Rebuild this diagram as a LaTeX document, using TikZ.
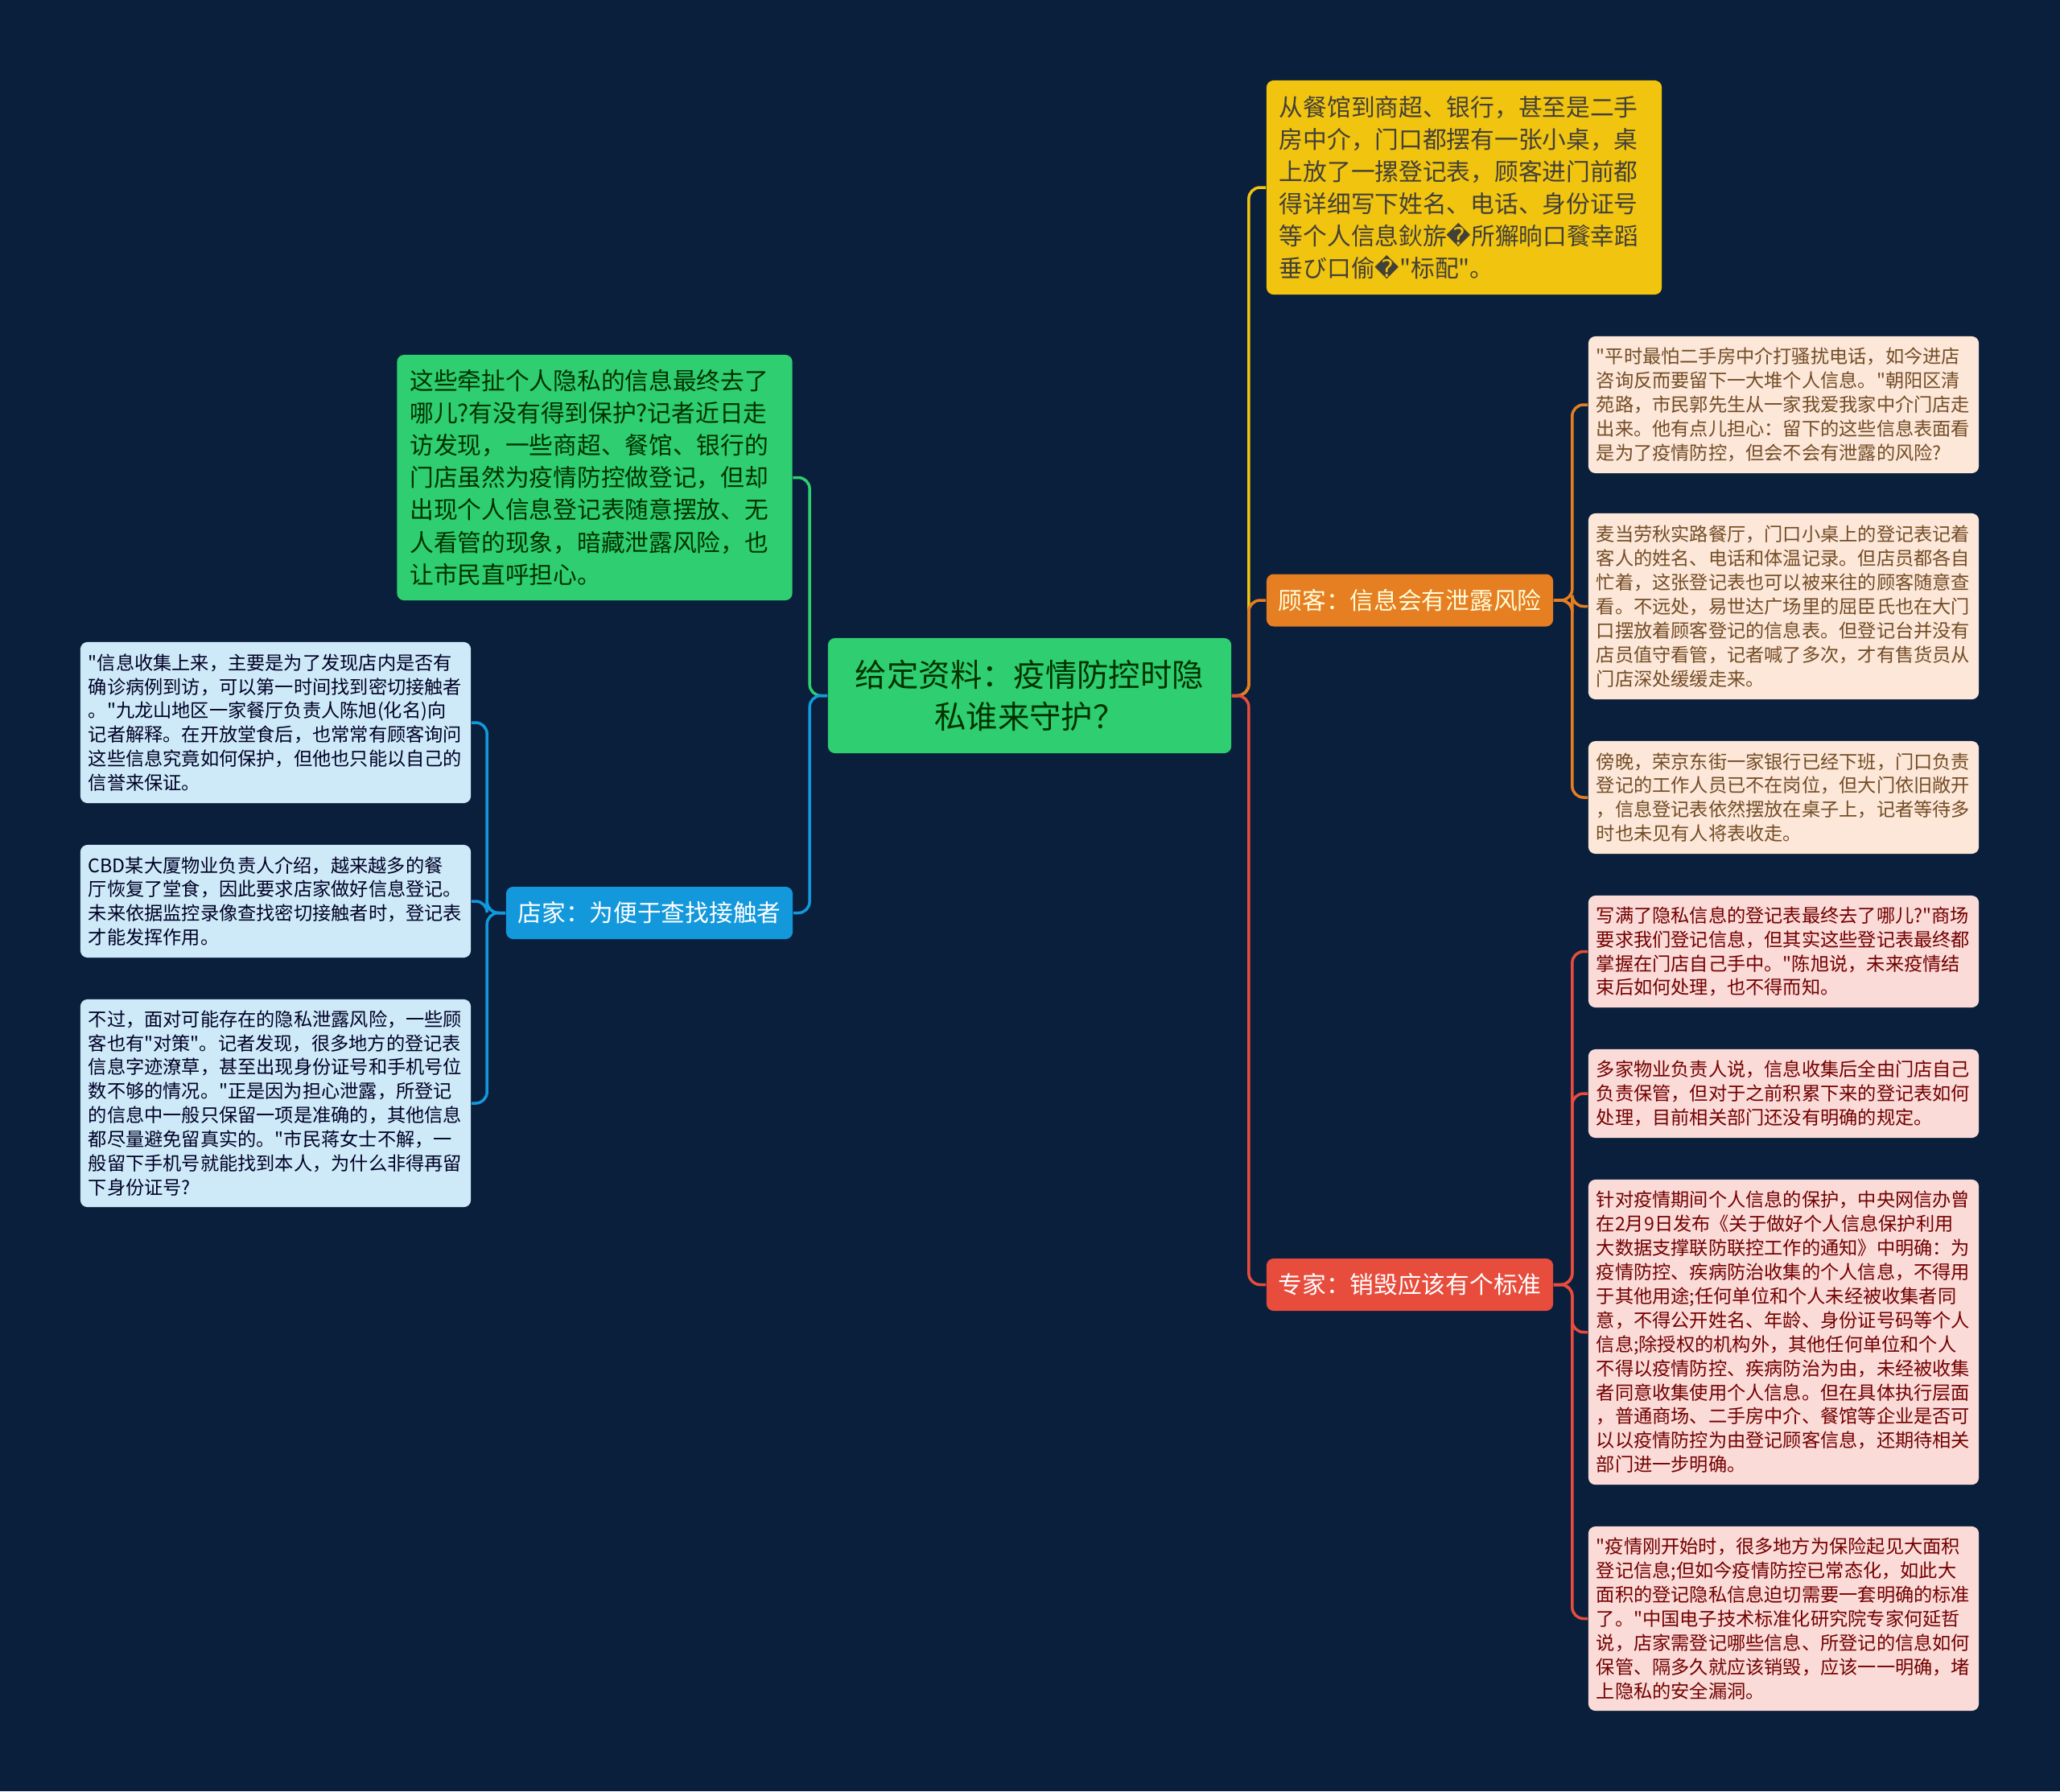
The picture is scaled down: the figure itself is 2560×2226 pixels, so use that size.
\documentclass[tikz,border=0pt]{standalone}
\usepackage{fontspec}
\setmainfont{Noto Sans CJK SC}[Ligatures=TeXOff]
\newfontfamily\repfont{DejaVu Sans}
\definecolor{bgnavy}{RGB}{10,31,59}
\definecolor{mgreen}{RGB}{46,206,113}
\definecolor{myellow}{RGB}{241,196,15}
\definecolor{morange}{RGB}{230,126,34}
\definecolor{mblue}{RGB}{19,152,220}
\definecolor{mred}{RGB}{231,76,60}
\definecolor{peach}{RGB}{252,231,216}
\definecolor{pinkleaf}{RGB}{250,219,216}
\definecolor{skyleaf}{RGB}{206,234,248}

\begin{document}
\begin{tikzpicture}[x=0.01cm,y=-0.01cm,
    big/.style={font=\fontsize{8.45pt}{11.4pt}\selectfont},
    small/.style={font=\fontsize{6.6pt}{8.5pt}\selectfont},
    card/.style={rounded corners=2.5pt, inner ysep=0pt, align=left},
    info/.style={card, big, inner xsep=0.16cm, text width=4.59cm},
    leaf/.style={card, small, inner xsep=0.1cm, text width=4.65cm},
    topic/.style={card, big, align=center, minimum width=3.56cm, minimum height=0.65cm},
    link/.style={line width=1pt, rounded corners=4pt}]
    \fill[bgnavy] (0,0) rectangle (2560,2226);

    % centre
    \node[card, fill=mgreen, text=black!80!green, align=center, minimum width=5.01cm, minimum height=1.43cm,
        font=\fontsize{11.2pt}{14.8pt}\selectfont] (root) at (1279.5,864.5) {给定资料：疫情防控时隐\\私谁来守护？};

    % top-level branches
    \node[info, fill=myellow, text=black!85!yellow, minimum height=2.66cm] (note) at (1819.5,233)
        {从餐馆到商超、银行，甚至是二手\\房中介，门口都摆有一张小桌，桌\\上放了一摞登记表，顾客进门前都\\得详细写下姓名、电话、身份证号\\等个人信息鈥旂{\repfont �}所獬晌口餮幸蹈\\垂び口偷{\repfont �}"标配"。};
    \node[info, fill=mgreen, text=black!80!green, minimum height=3.05cm] (intro) at (739,593.5)
        {这些牵扯个人隐私的信息最终去了\\哪儿?有没有得到保护?记者近日走\\访发现，一些商超、餐馆、银行的\\门店虽然为疫情防控做登记，但却\\出现个人信息登记表随意摆放、无\\人看管的现象，暗藏泄露风险，也\\让市民直呼担心。};
    \node[topic, fill=morange, text=yellow!15] (guke) at (1752,746) {顾客：信息会有泄露风险};
    \node[topic, fill=mblue, text=white] (dianjia) at (807,1134.5) {店家：为便于查找接触者};
    \node[topic, fill=mred, text=white] (zhuanjia) at (1752,1596.5) {专家：销毁应该有个标准};

    % customer leaves
    \node[leaf, fill=peach, text=brown!60!black, minimum height=1.70cm] (g1) at (2216.5,503)
        {"平时最怕二手房中介打骚扰电话，如今进店\\咨询反而要留下一大堆个人信息。"朝阳区清\\苑路，市民郭先生从一家我爱我家中介门店走\\出来。他有点儿担心：留下的这些信息表面看\\是为了疫情防控，但会不会有泄露的风险?};
    \node[leaf, fill=peach, text=brown!60!black, minimum height=2.31cm] (g2) at (2216.5,753.5)
        {麦当劳秋实路餐厅，门口小桌上的登记表记着\\客人的姓名、电话和体温记录。但店员都各自\\忙着，这张登记表也可以被来往的顾客随意查\\看。不远处，易世达广场里的屈臣氏也在大门\\口摆放着顾客登记的信息表。但登记台并没有\\店员值守看管，记者喊了多次，才有售货员从\\门店深处缓缓走来。};
    \node[leaf, fill=peach, text=brown!60!black, minimum height=1.40cm] (g3) at (2216.5,991)
        {傍晚，荣京东街一家银行已经下班，门口负责\\登记的工作人员已不在岗位，但大门依旧敞开\\，信息登记表依然摆放在桌子上，记者等待多\\时也未见有人将表收走。};

    % expert leaves
    \node[leaf, fill=pinkleaf, text=red!45!black, minimum height=1.39cm] (z1) at (2216.5,1182.5)
        {写满了隐私信息的登记表最终去了哪儿?"商场\\要求我们登记信息，但其实这些登记表最终都\\掌握在门店自己手中。"陈旭说，未来疫情结\\束后如何处理，也不得而知。};
    \node[leaf, fill=pinkleaf, text=red!45!black, minimum height=1.10cm] (z2) at (2216.5,1359)
        {多家物业负责人说，信息收集后全由门店自己\\负责保管，但对于之前积累下来的登记表如何\\处理，目前相关部门还没有明确的规定。};
    \node[leaf, fill=pinkleaf, text=red!45!black, minimum height=3.79cm] (z3) at (2216.5,1655.5)
        {针对疫情期间个人信息的保护，中央网信办曾\\在2月9日发布《关于做好个人信息保护利用\\大数据支撑联防联控工作的通知》中明确：为\\疫情防控、疾病防治收集的个人信息，不得用\\于其他用途;任何单位和个人未经被收集者同\\意，不得公开姓名、年龄、身份证号码等个人\\信息;除授权的机构外，其他任何单位和个人\\不得以疫情防控、疾病防治为由，未经被收集\\者同意收集使用个人信息。但在具体执行层面\\，普通商场、二手房中介、餐馆等企业是否可\\以以疫情防控为由登记顾客信息，还期待相关\\部门进一步明确。};
    \node[leaf, fill=pinkleaf, text=red!45!black, minimum height=2.29cm] (z4) at (2216.5,2011.5)
        {"疫情刚开始时，很多地方为保险起见大面积\\登记信息;但如今疫情防控已常态化，如此大\\面积的登记隐私信息迫切需要一套明确的标准\\了。"中国电子技术标准化研究院专家何延哲\\说，店家需登记哪些信息、所登记的信息如何\\保管、隔多久就应该销毁，应该一一明确，堵\\上隐私的安全漏洞。};

    % shop leaves
    \node[leaf, fill=skyleaf, text=black!85!blue, minimum height=2.00cm] (d1) at (342.5,898)
        {"信息收集上来，主要是为了发现店内是否有\\确诊病例到访，可以第一时间找到密切接触者\\。"九龙山地区一家餐厅负责人陈旭(化名)向\\记者解释。在开放堂食后，也常常有顾客询问\\这些信息究竟如何保护，但他也只能以自己的\\信誉来保证。};
    \node[leaf, fill=skyleaf, text=black!85!blue, minimum height=1.40cm] (d2) at (342.5,1120)
        {CBD某大厦物业负责人介绍，越来越多的餐\\厅恢复了堂食，因此要求店家做好信息登记。\\未来依据监控录像查找密切接触者时，登记表\\才能发挥作用。};
    \node[leaf, fill=skyleaf, text=black!85!blue, minimum height=2.58cm] (d3) at (342.5,1371)
        {不过，面对可能存在的隐私泄露风险，一些顾\\客也有"对策"。记者发现，很多地方的登记表\\信息字迹潦草，甚至出现身份证号和手机号位\\数不够的情况。"正是因为担心泄露，所登记\\的信息中一般只保留一项是准确的，其他信息\\都尽量避免留真实的。"市民蒋女士不解，一\\般留下手机号就能找到本人，为什么非得再留\\下身份证号?};

    % connectors
    \draw[link, myellow] (root.east) -- ++(21,0) |- (note.west);
    \draw[link, morange] (root.east) -- ++(21,0) |- (guke.west);
    \draw[link, mred] (root.east) -- ++(21,0) |- (zhuanjia.west);
    \draw[link, mgreen] (root.west) -- ++(-22,0) |- (intro.east);
    \draw[link, mblue] (root.west) -- ++(-22,0) |- (dianjia.east);
    \foreach \n in {g1,g2,g3}{\draw[link, morange] (guke.east) -- ++(23,0) |- (\n.west);}
    \foreach \n in {z1,z2,z3,z4}{\draw[link, mred] (zhuanjia.east) -- ++(23,0) |- (\n.west);}
    \foreach \n in {d1,d2,d3}{\draw[link, mblue] (dianjia.west) -- ++(-23,0) |- (\n.east);}
\end{tikzpicture}
\end{document}
